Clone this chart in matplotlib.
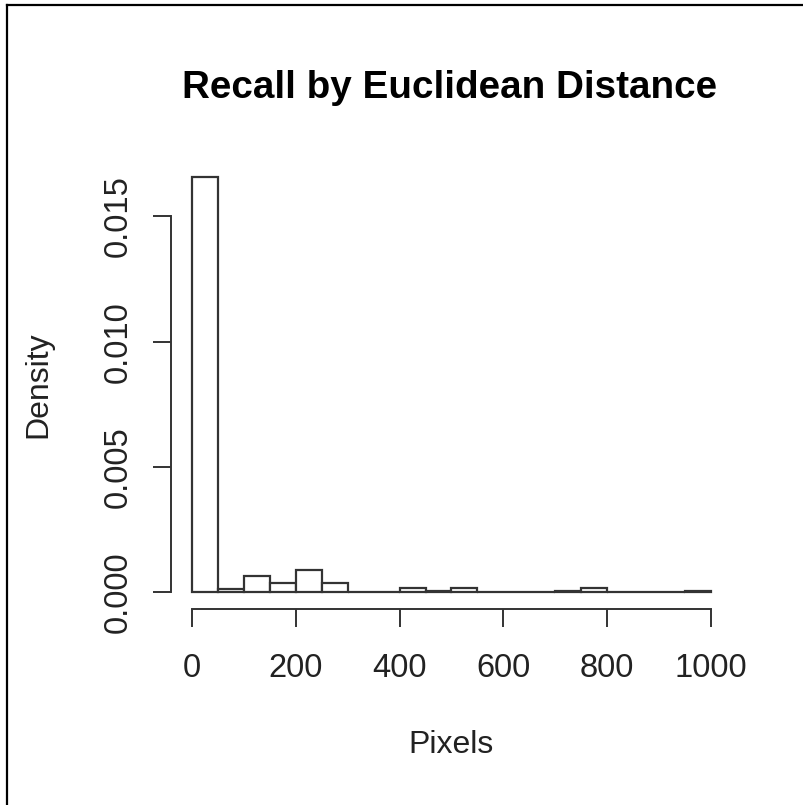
import matplotlib
matplotlib.use("Agg")
import matplotlib.pyplot as plt
from matplotlib.lines import Line2D
import numpy as np

# Histogram of recall error (Euclidean distance, pixels), 50-pixel bins
bin_edges = [0, 50, 100, 150, 200, 250, 300, 350, 400, 450, 500,
             550, 600, 650, 700, 750, 800, 850, 900, 950, 1000]
density = [0.01655, 0.00014, 0.00064, 0.00039, 0.00088, 0.00039, 0.0, 0.0,
           0.00016, 0.00004, 0.00016, 0.0, 0.0, 0.0, 0.00004, 0.00016,
           0.0, 0.0, 0.0, 0.00004]
x_ticks = [0, 200, 400, 600, 800, 1000]
y_ticks = [0.000, 0.005, 0.010, 0.015]
y_tick_labels = ["0.000", "0.005", "0.010", "0.015"]

plt.rcParams["font.family"] = ["Liberation Sans", "DejaVu Sans"]

W, H = 804, 805
fig = plt.figure(figsize=(W / 100, H / 100), dpi=100)

def fx(px):
    return px / W

def fy(py):
    return 1 - py / H

ax = fig.add_axes([fx(171.2), fy(608.9), fx(731.8) - fx(171.2), fy(160.9) - fy(608.9)])

edges = np.array(bin_edges, dtype=float)
widths = np.diff(edges)
ax.bar(edges[:-1], density, width=widths, align="edge", facecolor="white",
       edgecolor="#333333", linewidth=1.6)

ax.set_xlim(-40, 1040)
ymax = max(density)
ax.set_ylim(-0.04 * ymax, 1.04 * ymax)

for s in ("top", "right"):
    ax.spines[s].set_visible(False)
for s in ("left", "bottom"):
    ax.spines[s].set_color("#333333")
    ax.spines[s].set_linewidth(1.4)
ax.spines["left"].set_bounds(0, 0.015)
ax.spines["bottom"].set_bounds(0, 1000)

ax.set_xticks(x_ticks)
ax.set_xticklabels([str(v) for v in x_ticks])
ax.set_yticks(y_ticks)
ax.set_yticklabels(y_tick_labels, rotation=90, va="center")
ax.tick_params(axis="both", direction="out", length=13, width=1.4,
               color="#333333", labelsize=23.5, labelcolor="#222222")
ax.tick_params(axis="x", pad=19)
ax.tick_params(axis="y", pad=14)

fig.text(fx(450), fy(88), "Recall by Euclidean Distance", ha="center",
         va="center", fontsize=27.8, fontweight="bold", color="black")
fig.text(fx(451), fy(745), "Pixels", ha="center", va="center",
         fontsize=23, color="#222222")
fig.text(fx(38), fy(385), "Density", ha="center", va="center",
         rotation=90, fontsize=23, color="#222222")

# outer frame (left and top edges)
fig.add_artist(Line2D([fx(7), fx(7)], [fy(805), fy(5)], color="black",
                      linewidth=1.6, transform=fig.transFigure))
fig.add_artist(Line2D([fx(7), fx(804)], [fy(5), fy(5)], color="black",
                      linewidth=1.6, transform=fig.transFigure))

fig.savefig("out.png", dpi=100)
